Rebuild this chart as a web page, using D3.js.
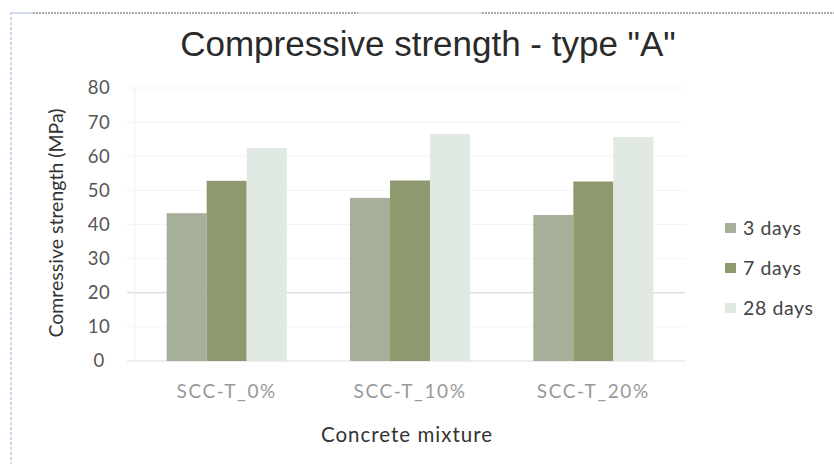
<!DOCTYPE html>
<html>
<head>
<meta charset="utf-8">
<script src="https://cdn.jsdelivr.net/npm/d3@7"></script>
<style>
  html, body { margin: 0; padding: 0; background: #fff; }
  svg { display: block; }
</style>
</head>
<body>
<svg id="chart" width="834" height="464"></svg>
<script>
// Compressive strength (MPa) per concrete mixture and curing age
const mixtures = ["SCC-T_0%", "SCC-T_10%", "SCC-T_20%"];
const ages = ["3 days", "7 days", "28 days"];
const days3 = [43.3, 47.8, 42.8];
const days7 = [52.8, 52.9, 52.6];
const days28 = [62.4, 66.5, 65.6];
const yTicks = [0, 10, 20, 30, 40, 50, 60, 70, 80];
const ageColors = ["#a6af9a", "#8e9a6d", "#e0e9e2"];

const seriesValues = [days3, days7, days28];
const rows = mixtures.map((m, i) => ({
  mixture: m,
  values: ages.map((a, j) => ({ age: a, value: seriesValues[j][i] }))
}));

const svg = d3.select("#chart");
const W = 834, H = 464;
const plot = { left: 135, right: 685, top: 88, bottom: 361 };
const labelFont = "Lato, 'Open Sans', sans-serif";

// frame edges of the chart object
svg.append("line")
  .attr("x1", 11).attr("x2", 11).attr("y1", 12).attr("y2", H)
  .attr("stroke", "#b9c6e4").attr("stroke-width", 1.5)
  .attr("stroke-dasharray", "3,2");
svg.append("line")
  .attr("x1", 11).attr("x2", 33).attr("y1", 13).attr("y2", 13)
  .attr("stroke", "#c4cfe8").attr("stroke-width", 1.5);
svg.append("line")
  .attr("x1", 33).attr("x2", 358).attr("y1", 13).attr("y2", 13)
  .attr("stroke", "#555").attr("stroke-width", 1.2)
  .attr("stroke-dasharray", "2,1");
svg.append("line")
  .attr("x1", 358).attr("x2", 482).attr("y1", 13).attr("y2", 13)
  .attr("stroke", "#ddd").attr("stroke-width", 1.5);
svg.append("line")
  .attr("x1", 482).attr("x2", W).attr("y1", 13).attr("y2", 13)
  .attr("stroke", "#555").attr("stroke-width", 1.2)
  .attr("stroke-dasharray", "2,1");

const x0 = d3.scaleBand()
  .domain(mixtures)
  .range([plot.left, plot.right])
  .paddingInner(0.345)
  .paddingOuter(0.1725);
const x1 = d3.scaleBand()
  .domain(ages)
  .range([0, x0.bandwidth()])
  .padding(0);
const y = d3.scaleLinear()
  .domain([0, 80])
  .range([plot.bottom, plot.top]);
const color = d3.scaleOrdinal().domain(ages).range(ageColors);

// horizontal gridlines
svg.append("g")
  .selectAll("line")
  .data(yTicks)
  .join("line")
  .attr("x1", plot.left - 8).attr("x2", plot.right)
  .attr("y1", d => y(d)).attr("y2", d => y(d))
  .attr("stroke", d => d === 20 ? "#cfcfcf" : (d === 0 ? "#dcdcdc" : "#f4f4f4"))
  .attr("stroke-width", 1);

// value axis line
svg.append("line")
  .attr("x1", plot.left).attr("x2", plot.left)
  .attr("y1", plot.top).attr("y2", plot.bottom)
  .attr("stroke", "#f0f0f0");

// bars
svg.append("g")
  .selectAll("g")
  .data(rows)
  .join("g")
  .attr("transform", d => `translate(${x0(d.mixture)},0)`)
  .selectAll("rect")
  .data(d => d.values)
  .join("rect")
  .attr("x", d => x1(d.age))
  .attr("width", x1.bandwidth())
  .attr("y", d => y(d.value))
  .attr("height", d => y(0) - y(d.value))
  .attr("fill", d => color(d.age));

// y tick labels
const yAxis = d3.axisLeft(y).tickValues(yTicks).tickSize(0).tickPadding(0);
const gy = svg.append("g")
  .attr("transform", `translate(${plot.left},0)`)
  .call(yAxis);
gy.select(".domain").remove();
gy.selectAll("text")
  .attr("x", 99 - plot.left)
  .attr("text-anchor", "middle")
  .attr("font-family", labelFont)
  .attr("font-size", 18.5)
  .attr("letter-spacing", 0.5)
  .attr("fill", "#555");

// x tick labels
const xAxis = d3.axisBottom(x0).tickSize(0).tickPadding(0);
const gx = svg.append("g")
  .attr("transform", `translate(0,${plot.bottom})`)
  .call(xAxis);
gx.select(".domain").remove();
gx.selectAll("text")
  .attr("y", 24)
  .attr("font-family", labelFont)
  .attr("font-size", 19)
  .attr("letter-spacing", 1.6)
  .attr("fill", "#999");

// title
svg.append("text")
  .attr("x", 428).attr("y", 56)
  .attr("text-anchor", "middle")
  .attr("font-family", "'Liberation Sans', Arial, sans-serif")
  .attr("font-size", 35)
  .attr("fill", "#2a2a2a")
  .text('Compressive strength - type "A"');

// axis titles
svg.append("text")
  .attr("transform", "translate(63,223) rotate(-90)")
  .attr("text-anchor", "middle")
  .attr("font-family", labelFont)
  .attr("font-size", 19.5)
  .attr("fill", "#333")
  .text("Comressive strength (MPa)");

svg.append("text")
  .attr("x", 407).attr("y", 442)
  .attr("text-anchor", "middle")
  .attr("font-family", labelFont)
  .attr("font-size", 20.5)
  .attr("letter-spacing", 1)
  .attr("fill", "#333")
  .text("Concrete mixture");

// legend
const legend = svg.append("g")
  .selectAll("g")
  .data(ages)
  .join("g")
  .attr("transform", (d, i) => `translate(725,${228 + i * 40})`);
legend.append("rect")
  .attr("x", 0).attr("y", -5)
  .attr("width", 11).attr("height", 10)
  .attr("fill", d => color(d));
legend.append("text")
  .attr("x", 18).attr("y", 0)
  .attr("dy", "0.35em")
  .attr("font-family", labelFont)
  .attr("font-size", 19.5)
  .attr("letter-spacing", 0.6)
  .attr("fill", "#444")
  .text(d => d);
</script>
</body>
</html>
